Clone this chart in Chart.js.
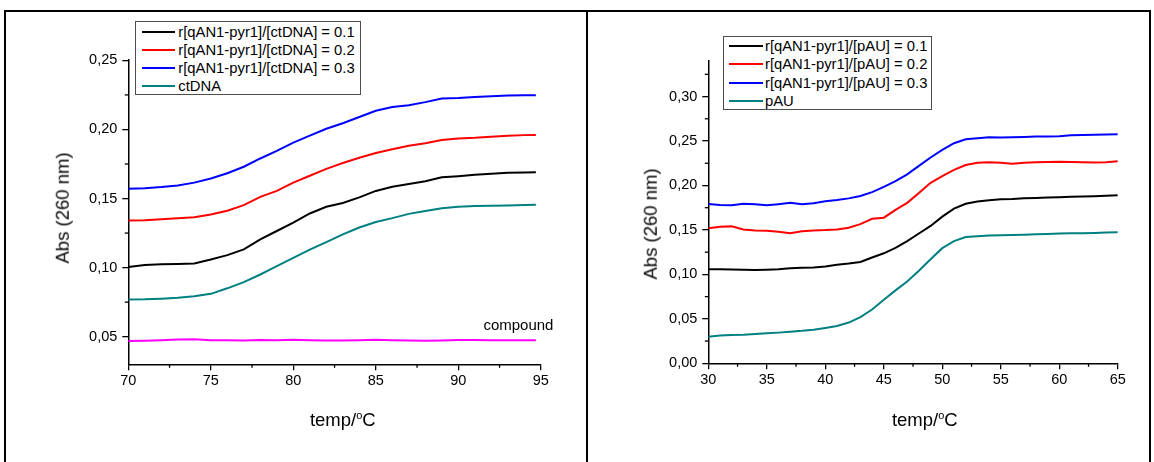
<!DOCTYPE html>
<html><head><meta charset="utf-8">
<script src="https://cdn.jsdelivr.net/npm/chart.js@4.4.1/dist/chart.umd.min.js"></script>
<style>
html,body{margin:0;padding:0;background:#fff;}
body{width:1154px;height:462px;position:relative;overflow:hidden;font-family:"Liberation Sans",Arial,sans-serif;color:#000;}
canvas{position:absolute;left:0;top:0;}
.rule{position:absolute;background:#000;}
.legend{position:absolute;border:1px solid #4d4d4d;box-sizing:border-box;background:#fff;font-size:14.8px;}
.legend .row{position:absolute;left:0;right:0;height:18px;line-height:18px;white-space:nowrap;}
.legend .sw{position:absolute;top:8px;height:2.2px;}
.legend .tx{position:absolute;top:0;}
.ytitle{position:absolute;font-size:18.5px;white-space:nowrap;line-height:1;transform:translate(-50%,-50%) rotate(-90deg);}
.xtitle{position:absolute;font-size:18.5px;white-space:nowrap;line-height:1;transform:translate(-50%,-50%);}
.xtitle sup{font-size:11px;line-height:0;vertical-align:0;position:relative;top:-7px;}
.note{position:absolute;font-size:15px;line-height:1;white-space:nowrap;}
</style>
</head>
<body>
<canvas id="c1" width="1154" height="462"></canvas>
<canvas id="c2" width="1154" height="462"></canvas>
<div class="rule" style="left:4px;top:9.5px;width:1147px;height:2px"></div>
<div class="rule" style="left:4px;top:9.5px;width:2px;height:460px"></div>
<div class="rule" style="left:585.5px;top:9.5px;width:2px;height:460px"></div>
<div class="rule" style="left:1149px;top:9.5px;width:2px;height:460px"></div>
<div id="leg1" class="legend" style="left:135px;top:20.7px;width:226px;height:74.3px"></div>
<div id="leg2" class="legend" style="left:722.7px;top:35.7px;width:209.6px;height:74.3px"></div>
<div class="ytitle" style="left:62.5px;top:207.5px">Abs (260 nm)</div>
<div class="ytitle" style="left:651px;top:224px">Abs (260 nm)</div>
<div class="xtitle" style="left:342.8px;top:420px">temp/<sup>o</sup>C</div>
<div class="xtitle" style="left:924.8px;top:419.5px">temp/<sup>o</sup>C</div>
<div class="note" style="left:483.4px;top:317px">compound</div>
<script>
// ---- data: ctDNA panel ----
const ctTemp = [70,71,72,73,74,75,76,77,78,79,80,81,82,83,84,85,86,87,88,89,90,91,92,93,94,94.7];
const ctR01 = [0.1005,0.1018,0.1024,0.1026,0.1030,0.1058,0.1090,0.1132,0.1205,0.1265,0.1325,0.1392,0.1440,0.1468,0.1508,0.1555,0.1585,0.1605,0.1625,0.1654,0.1662,0.1672,0.1680,0.1686,0.1689,0.1690];
const ctR02 = [0.1341,0.1342,0.1350,0.1358,0.1365,0.1385,0.1412,0.1452,0.1512,0.1555,0.1615,0.1665,0.1715,0.1757,0.1795,0.1830,0.1857,0.1882,0.1900,0.1923,0.1935,0.1940,0.1948,0.1955,0.1959,0.1960];
const ctR03 = [0.1570,0.1575,0.1583,0.1595,0.1615,0.1645,0.1683,0.1730,0.1790,0.1845,0.1905,0.1955,0.2005,0.2045,0.2090,0.2135,0.2162,0.2176,0.2198,0.2224,0.2228,0.2235,0.2240,0.2246,0.2248,0.2248];
const ctDNA = [0.0769,0.0770,0.0775,0.0782,0.0792,0.0810,0.0850,0.0895,0.0950,0.1010,0.1070,0.1130,0.1185,0.1240,0.1290,0.1330,0.1358,0.1389,0.1410,0.1430,0.1440,0.1446,0.1448,0.1450,0.1453,0.1455];
const ctCompound = [0.0468,0.0470,0.0474,0.0479,0.0482,0.0474,0.0474,0.0473,0.0476,0.0474,0.0477,0.0475,0.0473,0.0473,0.0474,0.0477,0.0475,0.0472,0.0471,0.0473,0.0476,0.0476,0.0474,0.0474,0.0475,0.0475];
const ctLabels = ['r[qAN1-pyr1]/[ctDNA] = 0.1','r[qAN1-pyr1]/[ctDNA] = 0.2','r[qAN1-pyr1]/[ctDNA] = 0.3','ctDNA','compound'];

// ---- data: pAU panel ----
const pauTemp = [30,31,32,33,34,35,36,37,38,39,40,41,42,43,44,45,46,47,48,49,50,51,52,53,54,55,56,57,58,59,60,61,62,63,64,65];
const pauR01 = [0.1057,0.1057,0.1055,0.1052,0.1050,0.1053,0.1057,0.1070,0.1075,0.1078,0.1088,0.1108,0.1122,0.1140,0.1190,0.1237,0.1298,0.1375,0.1460,0.1545,0.1650,0.1740,0.1795,0.1820,0.1835,0.1845,0.1848,0.1855,0.1860,0.1864,0.1868,0.1873,0.1877,0.1880,0.1885,0.1890];
const pauR02 = [0.1518,0.1535,0.1540,0.1505,0.1495,0.1492,0.1480,0.1463,0.1485,0.1494,0.1498,0.1506,0.1525,0.1565,0.1625,0.1638,0.1725,0.1805,0.1915,0.2030,0.2105,0.2175,0.2230,0.2255,0.2262,0.2255,0.2245,0.2255,0.2262,0.2265,0.2268,0.2265,0.2262,0.2258,0.2262,0.2272];
const pauR03 = [0.1792,0.1780,0.1778,0.1795,0.1790,0.1777,0.1790,0.1805,0.1790,0.1800,0.1823,0.1836,0.1855,0.1882,0.1925,0.1985,0.2050,0.2125,0.2220,0.2315,0.2400,0.2475,0.2520,0.2532,0.2542,0.2540,0.2542,0.2545,0.2550,0.2552,0.2555,0.2565,0.2568,0.2570,0.2573,0.2576];
const pAU = [0.0299,0.0312,0.0318,0.0322,0.0330,0.0337,0.0345,0.0355,0.0365,0.0378,0.0398,0.0420,0.0458,0.0520,0.0605,0.0715,0.0820,0.0920,0.1040,0.1170,0.1295,0.1375,0.1420,0.1428,0.1436,0.1440,0.1443,0.1447,0.1451,0.1455,0.1460,0.1462,0.1462,0.1465,0.1470,0.1474];
const pauLabels = ['r[qAN1-pyr1]/[pAU] = 0.1','r[qAN1-pyr1]/[pAU] = 0.2','r[qAN1-pyr1]/[pAU] = 0.3','pAU'];

// ---- axis ticks ----
const ctXTicks = {min:70, max:95, step:5, minor:2.5};
const ctYTicks = {min:0.03, max:0.2505, step:0.05, minor:0.025};
const pauXTicks = {min:30, max:65, step:5, minor:2.5};
const pauYTicks = {min:0, max:0.34, step:0.05, minor:0.025};

const colors = ['#000000','#ff0000','#0000ff','#008080','#ff00ff'];
const FONT = '"Liberation Sans", Arial, sans-serif';

function pts(xs, ys){ return xs.map((x,i)=>({x:x, y:ys[i]})); }
const comma = v => Number(v).toFixed(2).replace('.', ',');

const minorTicks = {
  id:'minorTicks',
  afterDraw(chart, args, opts){
    const ctx = chart.ctx;
    ctx.save();
    ctx.strokeStyle = '#000';
    ctx.lineWidth = 1.3;
    for (const id of ['x','y']) {
      const s = chart.scales[id];
      const step = opts[id];
      const major = s.options.ticks.stepSize;
      for (let k = Math.ceil(s.min/step - 1e-9); k*step <= s.max + 1e-9; k++) {
        const v = k*step;
        const r = v/major;
        if (Math.abs(r - Math.round(r)) < 1e-6) continue;
        const p = s.getPixelForValue(v);
        ctx.beginPath();
        if (s.isHorizontal()) { ctx.moveTo(p, s.top); ctx.lineTo(p, s.top + opts.len); }
        else { ctx.moveTo(s.right - opts.len, p); ctx.lineTo(s.right, p); }
        ctx.stroke();
      }
    }
    ctx.restore();
  }
};

function axis(t, isY){
  return {
    type:'linear', min:t.min, max:t.max,
    ticks:{stepSize:t.step, includeBounds:false, autoSkip:false, maxRotation:0, color:'#000',
      font:{family:FONT, size:14.5}, padding: isY ? 5 : 1.5,
      callback: isY ? (v)=>comma(v) : (v)=>String(v)},
    grid:{drawOnChartArea:false, drawTicks:true, tickLength:6, color:'#000', lineWidth:1.3},
    border:{display:true, color:'#000', width:1.5},
    afterFit: isY ? (s)=>{ s.width = 40; } : (s)=>{ s.height = 30; }
  };
}

function makeChart(id, temps, series, labels, xt, yt, area){
  const datasets = series.map((ys,i)=>({
    label: labels[i], data: pts(temps, ys), borderColor: colors[i], backgroundColor: colors[i],
    borderWidth: 2, pointRadius: 0, tension: 0, fill:false
  }));
  return new Chart(document.getElementById(id), {
    type:'line',
    data:{datasets},
    options:{
      responsive:false, animation:false, devicePixelRatio:1,
      layout:{padding:{left:area.left-40, right:1154-area.right, top:area.top, bottom:462-area.bottom-30}},
      plugins:{legend:{display:false}, tooltip:{enabled:false}, minorTicks:{x:xt.minor, y:yt.minor, len:3.5}},
      scales:{x:axis(xt,false), y:axis(yt,true)}
    },
    plugins:[minorTicks]
  });
}

const chart1 = makeChart('c1', ctTemp, [ctR01, ctR02, ctR03, ctDNA, ctCompound], ctLabels, ctXTicks, ctYTicks,
  {left:128.3, right:540.8, top:59.7, bottom:364.3});
const chart2 = makeChart('c2', pauTemp, [pauR01, pauR02, pauR03, pAU], pauLabels, pauXTicks, pauYTicks,
  {left:708.3, right:1117.8, top:61, bottom:363.3});

function buildLegend(chart, el, n, o){
  chart.data.datasets.slice(0, n).forEach((ds, i)=>{
    const row = document.createElement('div');
    row.className = 'row';
    row.style.top = (o.first + i*o.spacing - 9) + 'px';
    const sw = document.createElement('div');
    sw.className = 'sw';
    sw.style.left = o.swLeft + 'px';
    sw.style.width = o.swLen + 'px';
    sw.style.background = ds.borderColor;
    const tx = document.createElement('span');
    tx.className = 'tx';
    tx.style.left = o.textLeft + 'px';
    tx.textContent = ds.label;
    row.appendChild(sw); row.appendChild(tx);
    el.appendChild(row);
  });
}
buildLegend(chart1, document.getElementById('leg1'), 4, {first:10.6, spacing:17.8, swLeft:5.7, swLen:33.3, textLeft:42.3});
buildLegend(chart2, document.getElementById('leg2'), 4, {first:9.3, spacing:18.3, swLeft:5.6, swLen:34, textLeft:41.3});
</script>
</body></html>
